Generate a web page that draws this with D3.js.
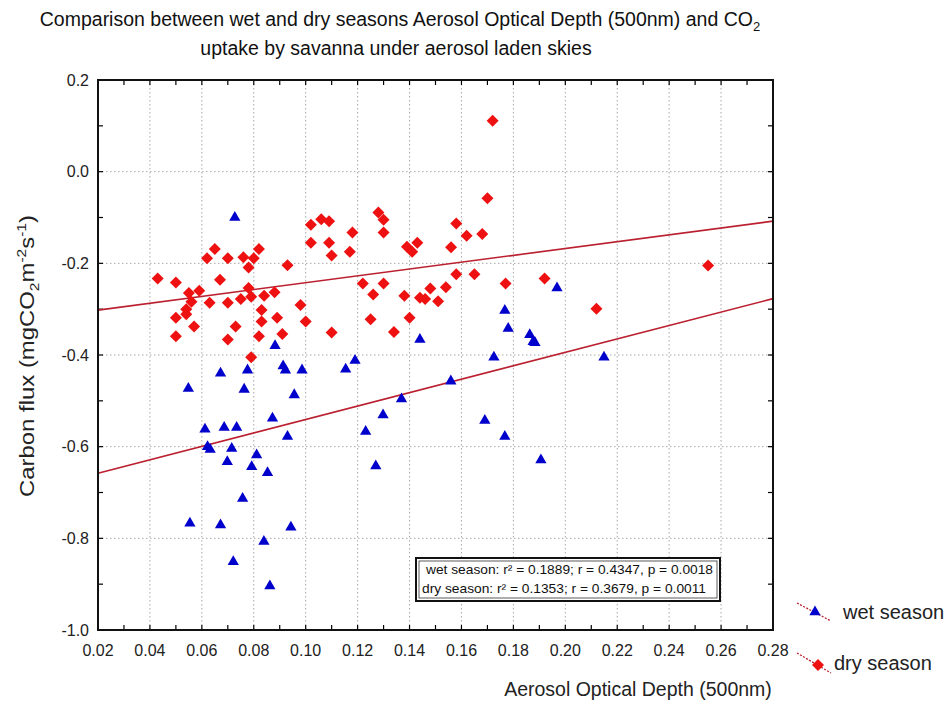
<!DOCTYPE html>
<html>
<head>
<meta charset="utf-8">
<script src="https://cdn.jsdelivr.net/npm/d3@7"></script>
<style>
body { margin: 0; background: #fff; }
svg { display: block; }
</style>
</head>
<body>
<div class="mainCont"></div>
<script>
var xTickLabels = ["0.02", "0.04", "0.06", "0.08", "0.10", "0.12", "0.14", "0.16", "0.18", "0.20", "0.22", "0.24", "0.26", "0.28"];
var yTickLabels = ["0.2", "0.0", "-0.2", "-0.4", "-0.6", "-0.8", "-1.0"];

// wet season points (AOD, carbon flux)
var wetAOD = [0.0727, 0.0882, 0.144, 0.0672, 0.0776, 0.0913, 0.0922, 0.0986, 0.0548, 0.0763,
    0.0956, 0.0872, 0.0612, 0.0686, 0.0734, 0.093, 0.0622, 0.0632, 0.0715, 0.0811,
    0.0698, 0.0792, 0.0853, 0.0757, 0.0554, 0.0672, 0.0943, 0.0839, 0.0721, 0.0862,
    0.1968, 0.1767, 0.178, 0.1863, 0.1876, 0.1883, 0.119, 0.1154, 0.1725, 0.2149,
    0.1559, 0.1369, 0.1298, 0.1231, 0.169, 0.1767, 0.1906, 0.127];
var wetFlux = [-0.100, -0.380, -0.366, -0.440, -0.433, -0.424, -0.433, -0.433, -0.473, -0.475,
    -0.487, -0.538, -0.562, -0.558, -0.558, -0.578, -0.600, -0.606, -0.604, -0.618,
    -0.633, -0.644, -0.657, -0.713, -0.767, -0.771, -0.776, -0.807, -0.851, -0.904,
    -0.254, -0.303, -0.342, -0.356, -0.371, -0.373, -0.412, -0.431, -0.405, -0.405,
    -0.457, -0.496, -0.531, -0.567, -0.543, -0.578, -0.629, -0.642];

// dry season points
var dryAOD = [0.172, 0.170, 0.158, 0.162, 0.168, 0.156, 0.139, 0.141, 0.143, 0.158,
    0.165, 0.177, 0.192, 0.255, 0.212, 0.138, 0.144, 0.146, 0.148, 0.154,
    0.151, 0.140, 0.102, 0.106, 0.109, 0.118, 0.102, 0.109, 0.110, 0.117,
    0.128, 0.130, 0.130, 0.093, 0.122, 0.130, 0.126, 0.098, 0.100, 0.110,
    0.125, 0.134, 0.065, 0.062, 0.070, 0.076, 0.082, 0.080, 0.078, 0.043,
    0.050, 0.067, 0.055, 0.059, 0.056, 0.054, 0.054, 0.063, 0.070, 0.075,
    0.078, 0.079, 0.084, 0.088, 0.050, 0.057, 0.050, 0.073, 0.070, 0.083,
    0.083, 0.089, 0.091, 0.082, 0.079];
var dryFlux = [0.111, -0.058, -0.113, -0.140, -0.136, -0.165, -0.164, -0.175, -0.155, -0.224,
    -0.224, -0.244, -0.233, -0.205, -0.299, -0.271, -0.275, -0.278, -0.255, -0.252,
    -0.283, -0.319, -0.116, -0.104, -0.108, -0.133, -0.155, -0.155, -0.183, -0.175,
    -0.089, -0.105, -0.133, -0.204, -0.244, -0.244, -0.268, -0.291, -0.327, -0.351,
    -0.322, -0.350, -0.169, -0.189, -0.189, -0.187, -0.169, -0.189, -0.209, -0.233,
    -0.242, -0.236, -0.265, -0.260, -0.284, -0.300, -0.311, -0.286, -0.286, -0.278,
    -0.254, -0.273, -0.271, -0.263, -0.319, -0.338, -0.359, -0.338, -0.366, -0.302,
    -0.327, -0.319, -0.354, -0.359, -0.405];

// fitted lines, value at both ends of the x range
var fitAOD = [0.02, 0.28];
var wetFit = [-0.658, -0.277];
var dryFit = [-0.302, -0.108];

var statsLines = ["wet season:  r\u00B2 = 0.1889;  r = 0.4347, p = 0.0018",
    "dry season:  r\u00B2 = 0.1353;  r = 0.3679, p = 0.0011"];
var seriesNames = ["wet season", "dry season"];

var width = 947,
    height = 702;
var plot = { left: 98, top: 80, right: 773, bottom: 630 };
var red = "#ee1111",
    blue = "#0000cc",
    lineColor = "#bb2030";
var font = "'Liberation Sans', Arial, sans-serif";

var svg = d3.select(".mainCont").append("svg")
    .attr("width", width)
    .attr("height", height)
    .style("font-family", font);

var x = d3.scaleLinear()
    .domain([+xTickLabels[0], +xTickLabels[xTickLabels.length - 1]])
    .range([plot.left, plot.right]);
var y = d3.scaleLinear()
    .domain([+yTickLabels[yTickLabels.length - 1], +yTickLabels[0]])
    .range([plot.bottom, plot.top]);

// grid
var grid = svg.append("g")
    .attr("stroke", "#a8a8a8")
    .attr("stroke-dasharray", "1.5,2.5");
grid.selectAll(".gx")
    .data(xTickLabels.slice(1, -1))
    .enter().append("line")
    .attr("x1", function(d) { return x(+d); })
    .attr("x2", function(d) { return x(+d); })
    .attr("y1", plot.top)
    .attr("y2", plot.bottom);
grid.selectAll(".gy")
    .data(yTickLabels.slice(1, -1))
    .enter().append("line")
    .attr("y1", function(d) { return y(+d); })
    .attr("y2", function(d) { return y(+d); })
    .attr("x1", plot.left)
    .attr("x2", plot.right);

// inside ticks
var ticks = svg.append("g").attr("stroke", "#000").attr("stroke-width", 1.2);
x.ticks(26).forEach(function(t) {
    ticks.append("line").attr("x1", x(t)).attr("x2", x(t)).attr("y1", plot.bottom).attr("y2", plot.bottom - 5);
    ticks.append("line").attr("x1", x(t)).attr("x2", x(t)).attr("y1", plot.top).attr("y2", plot.top + 5);
});
y.ticks(12).forEach(function(t) {
    ticks.append("line").attr("y1", y(t)).attr("y2", y(t)).attr("x1", plot.left).attr("x2", plot.left + 5);
    ticks.append("line").attr("y1", y(t)).attr("y2", y(t)).attr("x1", plot.right).attr("x2", plot.right - 5);
});

// tick labels
svg.selectAll(".xlab")
    .data(xTickLabels)
    .enter().append("text")
    .attr("x", function(d) { return x(+d); })
    .attr("y", plot.bottom + 26)
    .attr("text-anchor", "middle")
    .style("font-size", "16px")
    .attr("fill", "#222")
    .text(function(d) { return d; });
svg.selectAll(".ylab")
    .data(yTickLabels)
    .enter().append("text")
    .attr("x", plot.left - 9)
    .attr("y", function(d) { return y(+d); })
    .attr("dy", "0.35em")
    .attr("text-anchor", "end")
    .style("font-size", "16px")
    .attr("fill", "#222")
    .text(function(d) { return d; });

// fit lines
var fitLine = d3.line()
    .x(function(d) { return x(d[0]); })
    .y(function(d) { return y(d[1]); });
[wetFit, dryFit].forEach(function(f) {
    svg.append("path")
        .attr("d", fitLine(d3.zip(fitAOD, f)))
        .attr("fill", "none")
        .attr("stroke", lineColor)
        .attr("stroke-width", 1.6);
});

// points
var diamond = d3.symbol().type(d3.symbolSquare).size(72);
var triangle = d3.symbol().type(d3.symbolTriangle).size(55);

svg.append("g").selectAll("path")
    .data(d3.zip(dryAOD, dryFlux))
    .enter().append("path")
    .attr("d", diamond)
    .attr("transform", function(d) {
        return "translate(" + x(d[0]) + "," + y(d[1]) + ") rotate(45)";
    })
    .attr("fill", red);

svg.append("g").selectAll("path")
    .data(d3.zip(wetAOD, wetFlux))
    .enter().append("path")
    .attr("d", triangle)
    .attr("transform", function(d) {
        return "translate(" + x(d[0]) + "," + y(d[1]) + ")";
    })
    .attr("fill", blue);

// frame
svg.append("rect")
    .attr("x", plot.left)
    .attr("y", plot.top)
    .attr("width", plot.right - plot.left)
    .attr("height", plot.bottom - plot.top)
    .attr("fill", "none")
    .attr("stroke", "#111")
    .attr("stroke-width", 2);

// stats box
var box = svg.append("g");
box.append("rect")
    .attr("x", 416).attr("y", 558)
    .attr("width", 304).attr("height", 43)
    .attr("fill", "#fff")
    .attr("stroke", "#111")
    .attr("stroke-width", 2);
box.append("rect")
    .attr("x", 419).attr("y", 561)
    .attr("width", 298).attr("height", 37)
    .attr("fill", "none")
    .attr("stroke", "#333")
    .attr("stroke-width", 0.8);
box.selectAll("text")
    .data(statsLines)
    .enter().append("text")
    .attr("x", function(d, i) { return i === 0 ? 426 : 422; })
    .attr("y", function(d, i) { return 574 + i * 19; })
    .attr("textLength", function(d, i) { return i === 0 ? 287 : 284; })
    .attr("lengthAdjust", "spacingAndGlyphs")
    .style("font-size", "13px")
    .attr("fill", "#111")
    .text(function(d) { return d; });

// title
var title = svg.append("g")
    .style("font-family", "'Liberation Sans Narrow', 'Arial Narrow', " + font)
    .style("font-size", "19.5px")
    .attr("fill", "#111");
var t1 = title.append("text")
    .attr("x", 400).attr("y", 26)
    .attr("text-anchor", "middle");
t1.append("tspan").text("Comparison between wet and dry seasons Aerosol Optical Depth (500nm) and CO");
t1.append("tspan").attr("dy", 5).style("font-size", "13px").text("2");
title.append("text")
    .attr("x", 396).attr("y", 55)
    .attr("text-anchor", "middle")
    .text("uptake by savanna under  aerosol laden skies");

// axis titles
svg.append("text")
    .attr("x", 638).attr("y", 696)
    .attr("text-anchor", "middle")
    .style("font-size", "19.5px")
    .attr("fill", "#222")
    .text("Aerosol Optical Depth (500nm)");

var yt = svg.append("text")
    .attr("transform", "translate(34,356) rotate(-90)")
    .attr("text-anchor", "middle")
    .attr("textLength", 282)
    .attr("lengthAdjust", "spacingAndGlyphs")
    .style("font-size", "20px")
    .attr("fill", "#222");
yt.append("tspan").text("Carbon flux (mgCO");
yt.append("tspan").attr("dy", 5).style("font-size", "13px").text("2");
yt.append("tspan").attr("dy", -5).text("m");
yt.append("tspan").attr("dy", -8).style("font-size", "13px").text("-2");
yt.append("tspan").attr("dy", 8).text("s");
yt.append("tspan").attr("dy", -8).style("font-size", "13px").text("-1");
yt.append("tspan").attr("dy", 8).text(")");

// legend
var legend = svg.selectAll(".legend")
    .data(seriesNames)
    .enter().append("g")
    .attr("transform", function(d, i) { return "translate(797," + (603 + i * 50) + ")"; });
legend.append("line")
    .attr("x1", 0).attr("y1", 0)
    .attr("x2", 34).attr("y2", function(d, i) { return i === 0 ? 18 : 20; })
    .attr("stroke", lineColor)
    .attr("stroke-width", 1.3)
    .attr("stroke-dasharray", "2,1.5");
legend.append("path")
    .attr("d", function(d, i) { return i === 0 ? triangle() : diamond(); })
    .attr("transform", function(d, i) {
        return i === 0 ? "translate(18,9)" : "translate(21,12) rotate(45)";
    })
    .attr("fill", function(d, i) { return i === 0 ? blue : red; });
legend.append("text")
    .attr("x", function(d, i) { return i === 0 ? 46 : 37; })
    .attr("y", function(d, i) { return i === 0 ? 9 : 10; })
    .attr("dy", "0.35em")
    .style("font-size", "20px")
    .attr("fill", "#222")
    .text(function(d) { return d; });
</script>
</body>
</html>
